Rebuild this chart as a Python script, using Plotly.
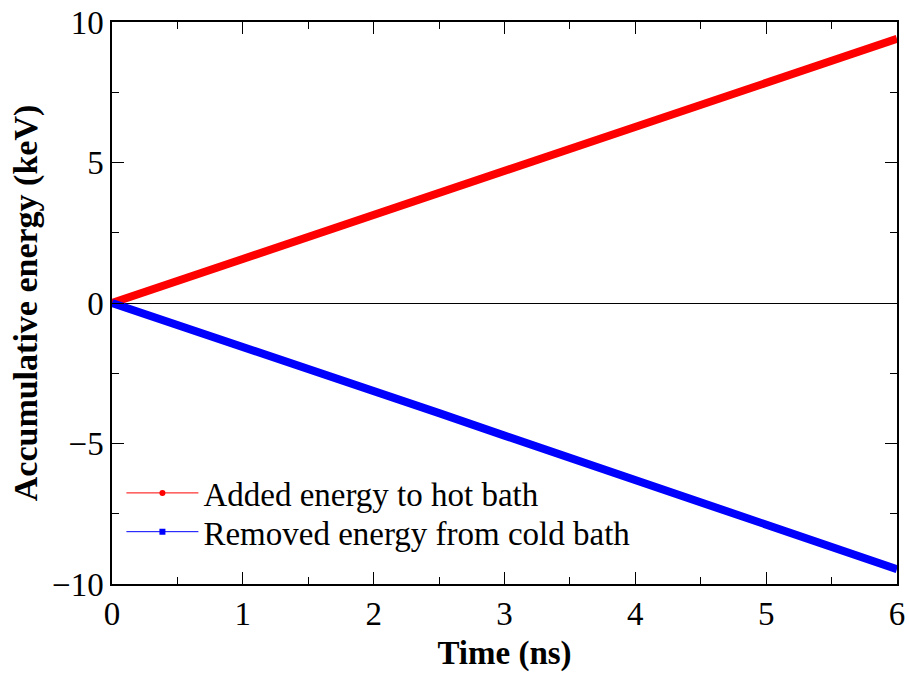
import plotly.graph_objects as go

time_ns = [0, 0.5, 1, 1.5, 2, 2.5, 3, 3.5, 4, 4.5, 5, 5.5, 6]
added_hot = [0, 0.78, 1.57, 2.35, 3.13, 3.92, 4.70, 5.48, 6.27, 7.05, 7.85, 8.62, 9.40]
removed_cold = [0, -0.77, -1.55, -2.33, -3.12, -3.92, -4.72, -5.50, -6.30, -7.08, -7.88, -8.68, -9.47]
names = ["Added energy to hot bath", "Removed energy from cold bath"]
colors = ["#ff0000", "#0000ff"]
symbols = ["circle", "square"]

FONT = "Liberation Serif"
fig = go.Figure()
for ys, name, col in zip([added_hot, removed_cold], names, colors):
    fig.add_trace(go.Scatter(x=time_ns, y=ys, mode="lines", line=dict(color=col, width=8),
                             showlegend=False, hoverinfo="skip"))
for name, col, sym, lg in zip(names, colors, symbols, ["legend", "legend2"]):
    fig.add_trace(go.Scatter(x=[None], y=[None], mode="lines+markers", name=name, legend=lg,
                             line=dict(color=col, width=1), marker=dict(color=col, symbol=sym, size=6)))

axis_common = dict(showline=True, linecolor="black", linewidth=1.5, mirror="ticks", ticks="inside",
                   ticklen=12, tickwidth=1.2, tickcolor="black", showgrid=False, automargin=False,
                   tickfont=dict(family=FONT, size=33, color="black"))
fig.update_xaxes(range=[0, 6], dtick=1, zeroline=False,
                 minor=dict(dtick=0.5, ticks="inside", ticklen=7, tickcolor="black", tickwidth=1.2),
                 title=dict(text="<b>Time (ns)</b>", font=dict(family=FONT, size=33, color="black"), standoff=10),
                 **axis_common)
fig.update_yaxes(range=[-10, 10], dtick=5, zeroline=True, zerolinecolor="black", zerolinewidth=1.2,
                 minor=dict(dtick=2.5, ticks="inside", ticklen=7, tickcolor="black", tickwidth=1.2),
                 title=dict(text="<b>Accumulative energy (keV)</b>", font=dict(family=FONT, size=34, color="black"), standoff=4),
                 **axis_common)
leg_common = dict(xanchor="left", yanchor="middle", bgcolor="rgba(0,0,0,0)",
                  font=dict(family=FONT, size=33, color="black"), itemwidth=72)
fig.update_layout(width=909, height=677, margin=dict(l=112, r=12, t=22, b=93),
                  plot_bgcolor="white", paper_bgcolor="white",
                  font=dict(family=FONT, color="black"),
                  legend=dict(x=0.012, y=0.162, **leg_common),
                  legend2=dict(x=0.012, y=0.093, **leg_common))
fig.write_html("out.html")
